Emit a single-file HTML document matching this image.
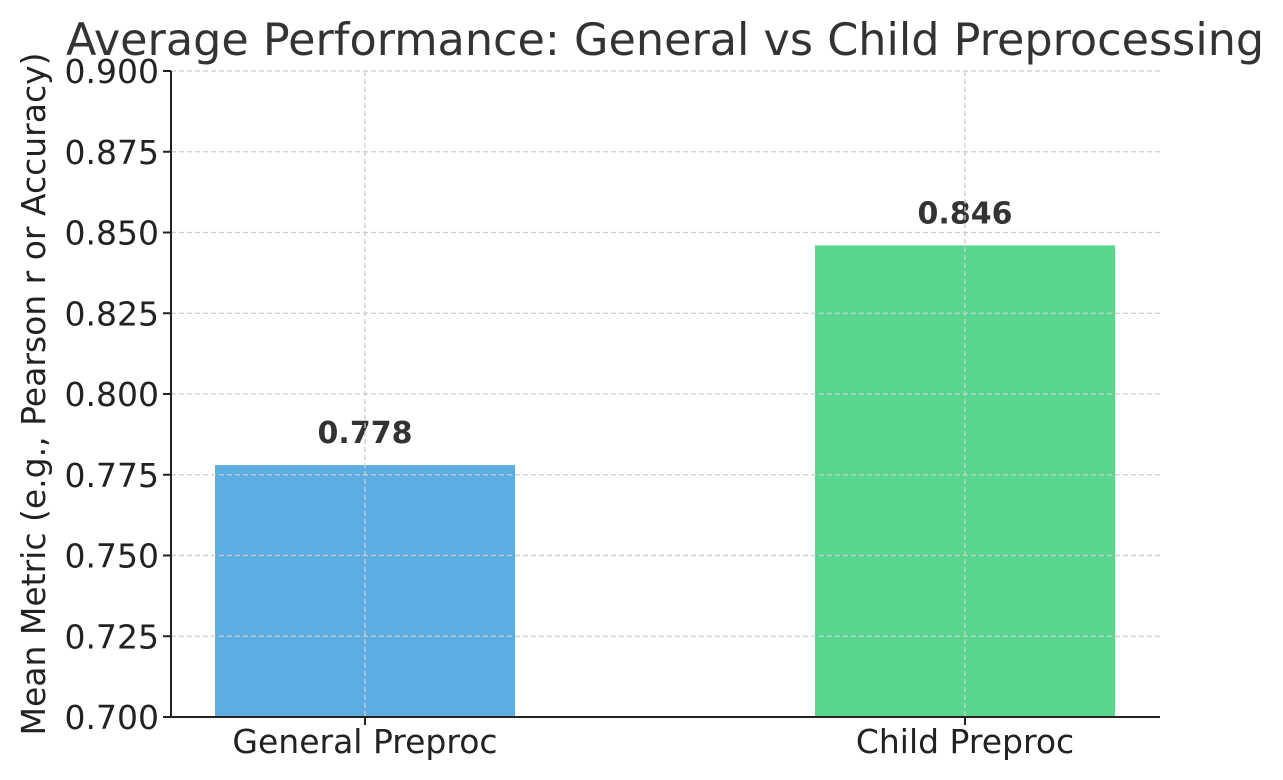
<!DOCTYPE html>
<html><head><meta charset="utf-8"><style>
html,body{margin:0;padding:0;background:#fff;}
svg{display:block;font-family:"DejaVu Sans","Liberation Sans",sans-serif;}
</style></head><body>
<svg id="chart" width="1283" height="780">
<text x="66" y="55" font-size="44.5" fill="#333">Average Performance: General vs Child Preprocessing</text>
<text transform="translate(45,394) rotate(-90)" text-anchor="middle" font-size="33" fill="#222">Mean Metric (e.g., Pearson r or Accuracy)</text>
<g id="grid"></g><g id="bars"></g><g id="axes"></g>
</svg>
<script>
const categories = ["General Preproc", "Child Preproc"];
const values = [0.778, 0.846];
const valueLabels = ["0.778", "0.846"];
const yTicks = [0.700, 0.725, 0.750, 0.775, 0.800, 0.825, 0.850, 0.875, 0.900];
const colors = ["#5DADE2", "#58D68D"];

const L = 171, R = 1160, T = 71, B = 717, yMin = 0.7, yMax = 0.9;
const y = v => B - (v - yMin) / (yMax - yMin) * (B - T);
const xc = i => 365 + i * 600;
const bw = 300;
const NS = "http://www.w3.org/2000/svg";
function mk(tag, attrs, parent, txt) {
  const e = document.createElementNS(NS, tag);
  for (const k in attrs) e.setAttribute(k, attrs[k]);
  if (txt !== undefined) e.textContent = txt;
  parent.appendChild(e); return e;
}
const svg = document.getElementById('chart');
const grid = document.getElementById('grid'), bars = document.getElementById('bars'), axes = document.getElementById('axes');
yTicks.forEach(t => {
  const g = mk('line', {x1: L, x2: R, y1: y(t), y2: y(t), stroke: '#ccc', 'stroke-width': 1.3, 'stroke-dasharray': '5,3'}, grid);
  
  
  const tk = mk('line', {x1: L - 8, x2: L, y1: y(t), y2: y(t), stroke: '#222', 'stroke-width': 2}, axes);
  
  
  const lb = mk('text', {x: L - 12, y: y(t) + 12, 'text-anchor': 'end', 'font-size': 33, fill: '#222'}, axes, t.toFixed(3));
  
  
});
categories.forEach((c, i) => {
  const b = mk('rect', {x: xc(i) - bw / 2, y: y(values[i]), width: bw, height: B - y(values[i]), fill: colors[i]}, bars);
  
  
  const v = mk('text', {x: xc(i), y: y(values[i]) - 22, 'text-anchor': 'middle', 'font-size': 30, 'font-weight': 'bold', fill: '#333'}, bars, valueLabels[i]);
  
  
  const g = mk('line', {x1: xc(i), x2: xc(i), y1: T, y2: B, stroke: '#ccc', 'stroke-width': 1.3, 'stroke-dasharray': '5,3'}, grid);
  
  
  const tk = mk('line', {x1: xc(i), x2: xc(i), y1: B, y2: B + 8, stroke: '#222', 'stroke-width': 2}, axes);
  
  
  const lb = mk('text', {x: xc(i), y: 753, 'text-anchor': 'middle', 'font-size': 33, fill: '#222'}, axes, c);
  
  
});
const ax1 = mk('line', {x1: L, x2: L, y1: T, y2: B + 1, stroke: '#222', 'stroke-width': 2}, axes);


const ax2 = mk('line', {x1: L - 1, x2: R, y1: B, y2: B, stroke: '#222', 'stroke-width': 2}, axes);


svg.appendChild(grid);
svg.appendChild(axes);
</script>
</body></html>
